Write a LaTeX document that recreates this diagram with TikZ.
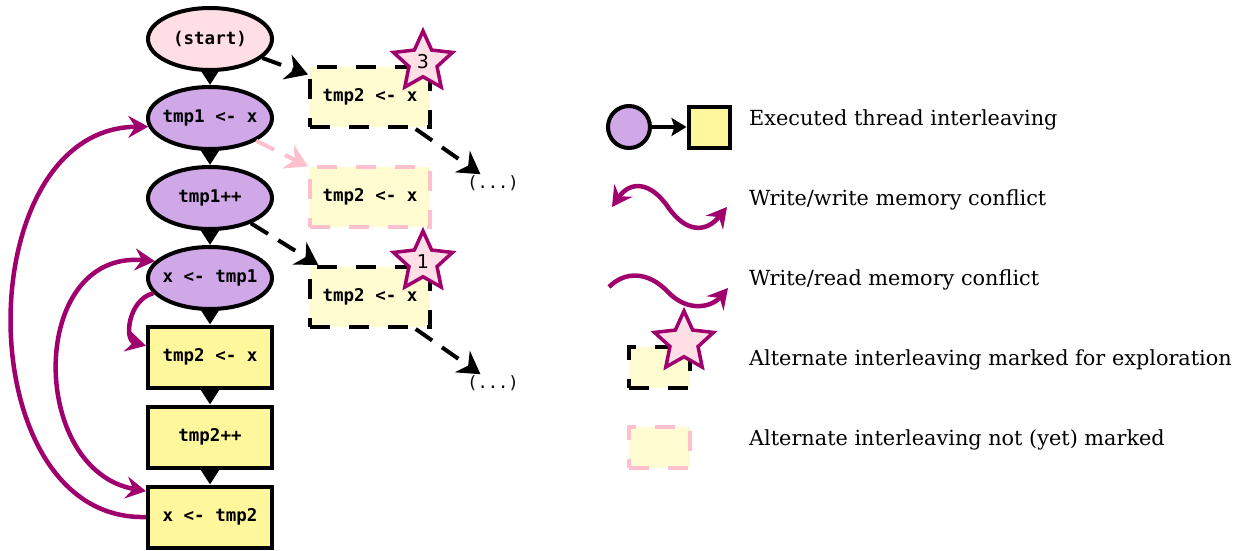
\documentclass[tikz,border=0pt]{standalone}
\usepackage{fontspec}
\setmainfont{DejaVu Serif}
\newfontfamily\codefont{DejaVu Sans Mono}
\newfontfamily\numfont{DejaVu Sans}
\usetikzlibrary{shapes.geometric,arrows.meta}
\definecolor{execfill}{RGB}{208,168,232}
\definecolor{startfill}{RGB}{255,222,230}
\definecolor{rectfill}{RGB}{255,247,155}
\definecolor{altfill}{RGB}{255,252,210}
\definecolor{conflictc}{RGB}{160,0,110}
\definecolor{pinkdash}{RGB}{255,192,206}
\tikzset{
  codetext/.style={font=\codefont\bfseries\fontsize{17.5}{20}\selectfont},
  ellnode/.style={ellipse, draw=black, line width=4pt, fill=execfill, minimum width=124pt, minimum height=62pt, inner xsep=-5pt, inner ysep=0pt, codetext},
  recnode/.style={rectangle, draw=black, line width=4pt, fill=rectfill, minimum width=124pt, minimum height=61pt, inner sep=0pt, codetext},
  altbox/.style={rectangle, draw=black, line width=4pt, dash pattern=on 20pt off 19pt, fill=altfill, minimum width=120pt, minimum height=60pt, inner sep=0pt, codetext},
  pinkbox/.style={altbox, draw=pinkdash},
  starmark/.style={star, star points=5, star point ratio=2.1, draw=conflictc, fill=startfill, line width=3.5pt, minimum size=62pt, inner sep=0pt, font=\numfont\fontsize{19}{21}\selectfont},
  chain/.style={line width=4pt, -{Triangle[width=18pt,length=15pt]}},
  alt/.style={line width=4pt, dash pattern=on 20pt off 12pt, -{Stealth[width=26pt,length=22pt,inset=7pt]}},
  altpink/.style={alt, draw=pinkdash},
  conflict/.style={draw=conflictc, line width=4.5pt, -{Stealth[width=22pt,length=20pt,inset=7pt]}},
  conflict2/.style={draw=conflictc, line width=4.5pt, {Stealth[width=22pt,length=20pt,inset=7pt]}-{Stealth[width=22pt,length=20pt,inset=7pt]}},
  dotsnode/.style={font=\codefont\fontsize{17}{19}\selectfont, inner sep=1pt},
  legtext/.style={anchor=west, font=\fontsize{20.8}{24}\selectfont, inner sep=0pt},
}
\begin{document}
\begin{tikzpicture}[x=1pt,y=-1pt]
\useasboundingbox (0,0) rectangle (1243,551);
% main thread
\node[ellnode, fill=startfill] (start) at (210,39) {(start)};
\node[ellnode] (t1) at (210,118) {tmp1 <- x};
\node[ellnode] (t1pp) at (210,198) {tmp1++};
\node[ellnode] (xt1) at (210,278) {x <- tmp1};
\node[recnode] (t2) at (210,357) {tmp2 <- x};
\node[recnode] (t2pp) at (210,437) {tmp2++};
\node[recnode] (xt2) at (210,517) {x <- tmp2};
\draw[chain] (start) -- (t1);
\draw[chain] (t1) -- (t1pp);
\draw[chain] (t1pp) -- (xt1);
\draw[chain] (xt1) -- (t2);
\draw[chain] (t2) -- (t2pp);
\draw[chain] (t2pp) -- (xt2);
% alternatives
\node[altbox] (b3) at (370,97) {tmp2 <- x};
\node[pinkbox] (b2) at (370,197) {tmp2 <- x};
\node[altbox] (b1) at (370,297) {tmp2 <- x};
\node[dotsnode] (d1) at (493,183) {(...)};
\node[dotsnode] (d2) at (493,383) {(...)};
\draw[alt] (start) -- (b3);
\draw[altpink] (t1) -- (b2);
\draw[alt] (t1pp) -- (b1);
\draw[alt] (b3) -- (d1);
\draw[alt] (b1) -- (d2);
\node[starmark] (s3) at (423,62) {3};
\node[starmark] (s1) at (423,262) {1};
% conflicts
\draw[conflict] (xt2.west) .. controls (-33,522) and (-33,128) .. (t1.188);
\draw[conflict2] (xt1.163) .. controls (28,250) and (28,470) .. (xt2.158);
\draw[conflict] (xt1.195) .. controls (128,300) and (124,340) .. (t2.170);
% legend
\node[circle, draw=black, line width=4pt, fill=execfill, minimum size=42pt, inner sep=0pt] (lc) at (629,127) {};
\node[rectangle, draw=black, line width=4pt, fill=rectfill, minimum size=41pt, inner sep=0pt] (lr) at (709,127) {};
\draw[line width=4pt, -{Stealth[width=18pt,length=15pt,inset=3pt]}] (lc) -- (lr);
\node[legtext] (l1) at (749,120) {Executed thread interleaving};
\coordinate (w1a) at (612,207);
\coordinate (w1b) at (668,207);
\coordinate (w1c) at (727,207);
\draw[conflict2] (w1a) .. controls (630,181) and (650,181) .. (w1b) .. controls (686,233) and (706,233) .. (w1c);
\node[legtext] (l2) at (749,200) {Write/write memory conflict};
\coordinate (w2a) at (609,287);
\coordinate (w2b) at (668,292);
\coordinate (w2c) at (728,288);
\draw[conflict] (w2a) .. controls (625,271) and (648,271) .. (w2b) .. controls (688,313) and (712,307) .. (w2c);
\node[legtext] (l3) at (749,280) {Write/read memory conflict};
\node[altbox, minimum width=61pt, minimum height=41pt] (lb1) at (659,367) {};
\node[starmark] (ls) at (684,342) {};
\node[legtext] (l4) at (749,360) {Alternate interleaving marked for exploration};
\node[pinkbox, minimum width=61pt, minimum height=41pt] (lb2) at (659,447) {};
\node[legtext] (l5) at (749,440) {Alternate interleaving not (yet) marked};
\end{tikzpicture}
\end{document}
